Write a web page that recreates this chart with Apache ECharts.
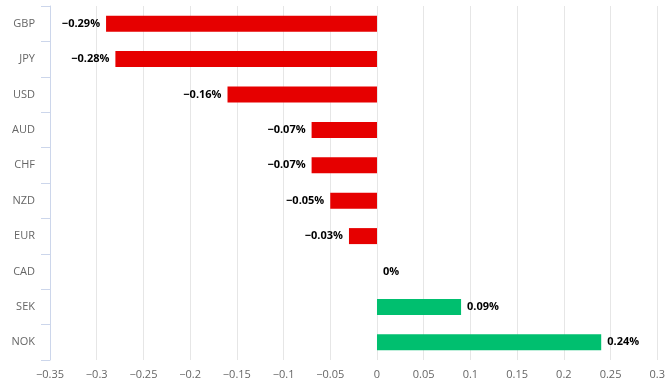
<!DOCTYPE html>
<html>
<head>
<meta charset="utf-8">
<script src="https://cdn.jsdelivr.net/npm/echarts@6/dist/echarts.min.js"></script>
<style>html,body{margin:0;padding:0;background:#fff}#c{width:668px;height:390px}</style>
</head>
<body>
<div id="c"></div>
<script>
var categories = ['GBP','JPY','USD','AUD','CHF','NZD','EUR','CAD','SEK','NOK'];
var values = [-0.29,-0.28,-0.16,-0.07,-0.07,-0.05,-0.03,0,0.09,0.24];
var negColor = '#e60000';
var posColor = '#00bf6f';

function fmt(v){ return String(v).replace('-', '\u2212'); }

var chart = echarts.init(document.getElementById('c'), null, {renderer:'canvas'});
chart.setOption({
  animation:false,
  grid:{left:50,right:5,top:6,bottom:30,containLabel:false},
  xAxis:{
    type:'value', min:-0.35, max:0.3, interval:0.05,
    axisLine:{show:false}, axisTick:{show:false},
    splitLine:{show:true,lineStyle:{color:'#e6e6e6',width:1}},
    axisLabel:{color:'#666',fontFamily:'Open Sans',fontSize:11,margin:9,
      formatter:function(v){ return fmt(Math.round(v*100)/100); }}
  },
  yAxis:{
    type:'category', data:categories, inverse:true,
    axisLine:{show:true,onZero:false,lineStyle:{color:'#ccd6eb'}},
    axisTick:{show:true,length:9,lineStyle:{color:'#ccd6eb'}},
    axisLabel:{color:'#666',fontFamily:'Open Sans',fontSize:11,margin:15},
    splitLine:{show:false}
  },
  series:[{
    type:'bar', barWidth:16,
    data: values.map(function(v){
      return {value:v,
        itemStyle:{color: v<0?negColor:posColor},
        label:{position: v<0?'left':'right'}};
    }),
    label:{show:true,distance:6,color:'#000',fontWeight:'bold',fontFamily:'Open Sans',fontSize:11,
      formatter:function(p){ return fmt(p.value)+'%'; }}
  }]
});
</script>
</body>
</html>
